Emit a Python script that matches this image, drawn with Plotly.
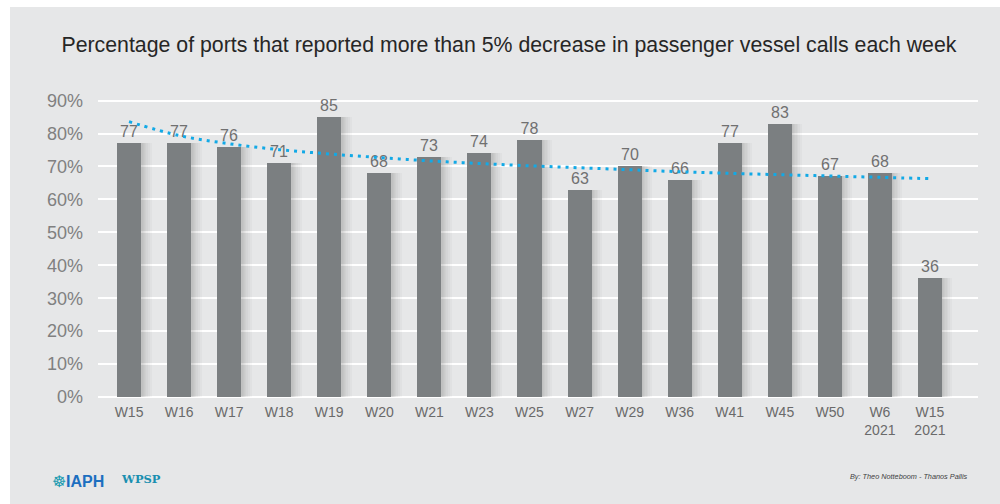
import plotly.graph_objects as go

categories = ["W15", "W16", "W17", "W18", "W19", "W20", "W21", "W23", "W25", "W27",
              "W29", "W36", "W41", "W45", "W50", "W6<br>2021", "W15<br>2021"]
values = [77, 77, 76, 71, 85, 68, 73, 74, 78, 63, 70, 66, 77, 83, 67, 68, 36]
trend = [83.6, 79.4, 76.9, 75.1, 73.8, 72.7, 71.7, 70.9, 70.2, 69.6,
         69.0, 68.4, 67.9, 67.5, 67.1, 66.7, 66.3]
y_ticks = [0, 10, 20, 30, 40, 50, 60, 70, 80, 90]

xs = list(range(len(categories)))
frac = [v / 100 for v in values]
trend_frac = [t / 100 for t in trend]

fig = go.Figure()

# soft shadows behind bars
for w in [0.68, 0.64, 0.60, 0.57, 0.54, 0.52, 0.50]:
    fig.add_trace(go.Bar(x=xs, y=frac, width=w, offset=-0.23,
                         marker=dict(color="rgba(0,0,0,0.022)", line=dict(width=0)),
                         hoverinfo="skip", showlegend=False))

fig.add_trace(go.Bar(
    x=xs, y=frac, width=0.48,
    marker=dict(color="#7b7f81", line=dict(width=0)),
    text=[str(v) for v in values], textposition="outside",
    textfont=dict(family="Liberation Sans, Arial", size=16, color="#707070"),
    cliponaxis=False, showlegend=False,
))

fig.add_trace(go.Scatter(
    x=xs, y=trend_frac, mode="lines",
    line=dict(color="#12a9e6", width=3, dash="3px,5px", shape="spline"),
    showlegend=False, hoverinfo="skip",
))

# background panel (white border top/left)
fig.add_shape(type="rect", xref="paper", yref="paper",
              x0=(10 - 98) / 880, x1=(1002 - 98) / 880,
              y0=-120 / 303, y1=(397 - 7) / 303,
              fillcolor="#e6e7e8", line=dict(width=0), layer="below")

fig.update_layout(
    width=1000, height=504,
    margin=dict(l=98, r=22, t=94, b=107),
    paper_bgcolor="white", plot_bgcolor="rgba(0,0,0,0)",
    barmode="overlay", bargap=0,
    title=dict(text="Percentage of ports that reported more than 5% decrease in passenger vessel calls each week",
               x=0.467, xanchor="center", y=1 - 45 / 504, yanchor="middle",
               xref="paper",
               font=dict(family="Liberation Sans, Arial", size=21.3, color="#262626")),
    xaxis=dict(tickmode="array", tickvals=xs, ticktext=categories,
               range=[-0.62, 16.96], showgrid=False, zeroline=False, showline=False,
               ticks="", ticklabelstandoff=5,
               tickfont=dict(family="Liberation Sans, Arial", size=14, color="#6a6a6a")),
    yaxis=dict(range=[0, 0.92], tickmode="array", tickvals=[t / 100 for t in y_ticks],
               ticktext=[f"{t}%" for t in y_ticks],
               showgrid=True, gridcolor="white", gridwidth=2,
               zeroline=True, zerolinecolor="white", zerolinewidth=2,
               showline=False, ticks="", ticklabelstandoff=14,
               tickfont=dict(family="Liberation Sans, Arial", size=18, color="#808080")),
)

fig.add_annotation(text="<span style='color:#1a9bb0'>☸</span><b>IAPH</b>", xref="paper", yref="paper",
                   x=(50 - 98) / 880, y=(397 - 481) / 303, xanchor="left", yanchor="middle",
                   showarrow=False, font=dict(family="Liberation Sans, Arial", size=16, color="#1c6fc0"))
fig.add_annotation(text="<b>WPSP</b>", xref="paper", yref="paper",
                   x=(119 - 98) / 880, y=(397 - 479) / 303, xanchor="left", yanchor="middle",
                   showarrow=False, font=dict(family="DejaVu Serif, serif", size=11.5, color="#1a8fb0"))
fig.add_annotation(text="<i>By: Theo Notteboom - Thanos Pallis</i>", xref="paper", yref="paper",
                   x=(970 - 98) / 880, y=(397 - 476) / 303, xanchor="right", yanchor="middle",
                   showarrow=False, font=dict(family="Liberation Sans, Arial", size=7.3, color="#404040"))

fig.write_html("out.html")
